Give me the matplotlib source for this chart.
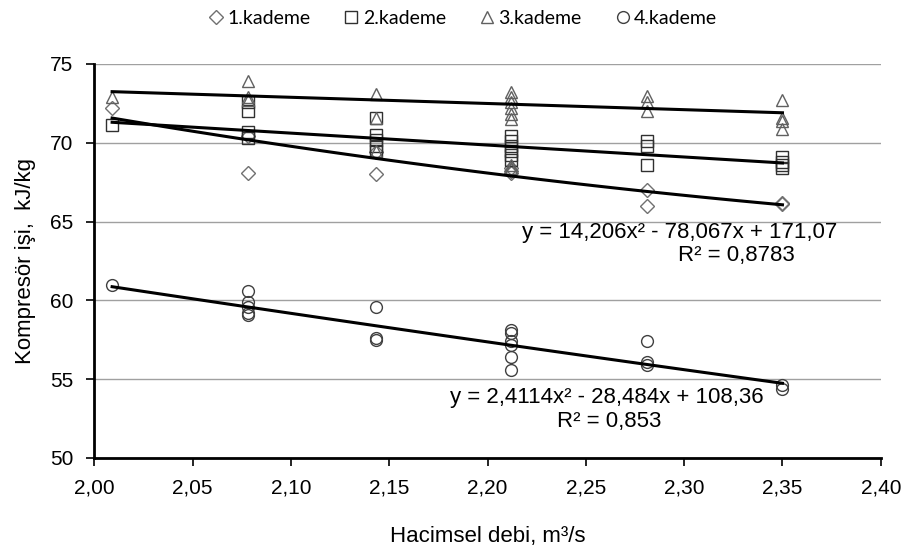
import numpy as np
import matplotlib.pyplot as plt
from matplotlib.ticker import FuncFormatter

# -----------------------
# DATA
# -----------------------
x1 = [2.009, 2.078, 2.078, 2.143, 2.143, 2.212, 2.212, 2.212, 2.281, 2.281, 2.350, 2.350]
y1 = [72.2, 70.4, 68.1, 69.4, 68.0, 68.4, 68.2, 68.1, 67.0, 66.0, 66.2, 66.1]

x2 = [2.009, 2.078, 2.078, 2.078, 2.078, 2.143, 2.143, 2.143, 2.143, 2.143,
      2.212, 2.212, 2.212, 2.212, 2.212, 2.212, 2.281, 2.281, 2.281,
      2.350, 2.350, 2.350, 2.350]
y2 = [71.1, 72.6, 72.0, 70.7, 70.3, 71.6, 70.5, 70.2, 69.8, 69.5,
      70.4, 70.1, 69.8, 69.5, 69.2, 68.9, 70.1, 69.8, 68.6,
      69.1, 68.8, 68.6, 68.4]

x3 = [2.009, 2.078, 2.078, 2.078, 2.143, 2.143, 2.143,
      2.212, 2.212, 2.212, 2.212, 2.212, 2.212, 2.212, 2.212,
      2.281, 2.281, 2.281, 2.350, 2.350, 2.350, 2.350]
y3 = [72.9, 73.9, 72.9, 72.7, 73.1, 71.6, 69.5,
      73.2, 72.9, 72.6, 72.2, 71.8, 71.5, 68.6, 68.4,
      73.0, 72.6, 72.0, 72.7, 71.6, 71.4, 70.9]

x4 = [2.009, 2.078, 2.078, 2.078, 2.078, 2.078, 2.143, 2.143, 2.143,
      2.212, 2.212, 2.212, 2.212, 2.212, 2.212, 2.281, 2.281, 2.281,
      2.350, 2.350]
y4 = [61.0, 60.6, 59.9, 59.6, 59.2, 59.1, 59.6, 57.6, 57.5,
      58.1, 57.9, 57.4, 57.2, 56.4, 55.6, 57.4, 56.1, 55.9,
      54.6, 54.4]

# trendline coefficients (1 and 4 printed on the chart, 2 and 3 estimated)
coef1 = [14.206, -78.067, 171.07]
coef2 = [-7.57, 86.51]
coef3 = [-3.93, 81.14]
coef4 = [2.4114, -28.484, 108.36]
eq1 = "y = 14,206x² - 78,067x + 171,07"
r1 = "R² = 0,8783"
eq4 = "y = 2,4114x² - 28,484x + 108,36"
r4 = "R² = 0,853"

labels = ["1.kademe", "2.kademe", "3.kademe", "4.kademe"]

# -----------------------
# STYLE
# -----------------------
plt.rcParams['font.family'] = ['Liberation Sans', 'DejaVu Sans']

fig = plt.figure(figsize=(9.08, 5.54), dpi=100)
ax = fig.add_axes([0.104, 0.1733, 0.866, 0.7112])

mk = dict(linestyle="none", markersize=8.5, markerfacecolor="none", markeredgewidth=1.0)
ax.plot(x1, y1, marker="D", markersize=7, markeredgecolor="#707070",
        linestyle="none", markerfacecolor="none", markeredgewidth=1.0, label=labels[0], zorder=3)
ax.plot(x2, y2, marker="s", markeredgecolor="#303030", label=labels[1], zorder=3, **mk)
ax.plot(x3, y3, marker="^", markeredgecolor="#606060", label=labels[2], zorder=3, **mk)
ax.plot(x4, y4, marker="o", markeredgecolor="#404040", label=labels[3], zorder=3, **mk)

# -----------------------
# TRENDLINES
# -----------------------
xs = np.linspace(min(x1), max(x1), 100)
for c in [coef1, coef2, coef3, coef4]:
    ax.plot(xs, np.polyval(c, xs), color="black", lw=2.2, zorder=4)

ax.text(2.2978, 64.28, eq1, fontsize=16, ha="center", va="center")
ax.text(2.3268, 62.83, r1, fontsize=16, ha="center", va="center")
ax.text(2.2607, 53.82, eq4, fontsize=16, ha="center", va="center")
ax.text(2.2617, 52.30, r4, fontsize=16, ha="center", va="center")

# -----------------------
# AXES
# -----------------------
ax.set_xlim(2.0, 2.4)
ax.set_ylim(50, 75)
ax.set_xticks(np.arange(2.0, 2.401, 0.05))
ax.set_yticks([50, 55, 60, 65, 70, 75])
ax.xaxis.set_major_formatter(FuncFormatter(lambda v, p: f"{v:.2f}".replace(".", ",")))
ax.tick_params(axis="both", labelsize=15, length=6, width=1.2, direction="out", pad=9)
ax.yaxis.grid(True, color="#a0a0a0", lw=1.0)
ax.set_axisbelow(True)
for s in ["top", "right"]:
    ax.spines[s].set_visible(False)
ax.spines["left"].set_linewidth(2)
ax.spines["bottom"].set_linewidth(2)

ax.set_xlabel("Hacimsel debi, m³/s", fontsize=16, labelpad=20)
ax.set_ylabel("Kompresör işi,  kJ/kg", fontsize=16, labelpad=10)

leg = ax.legend(loc="center", bbox_to_anchor=(0.467, 1.115), ncol=4, frameon=False,
                handletextpad=0.1, columnspacing=1.6, handlelength=1.0,
                prop={'family': 'Lato', 'size': 14})

fig.savefig("out.png", dpi=100)
